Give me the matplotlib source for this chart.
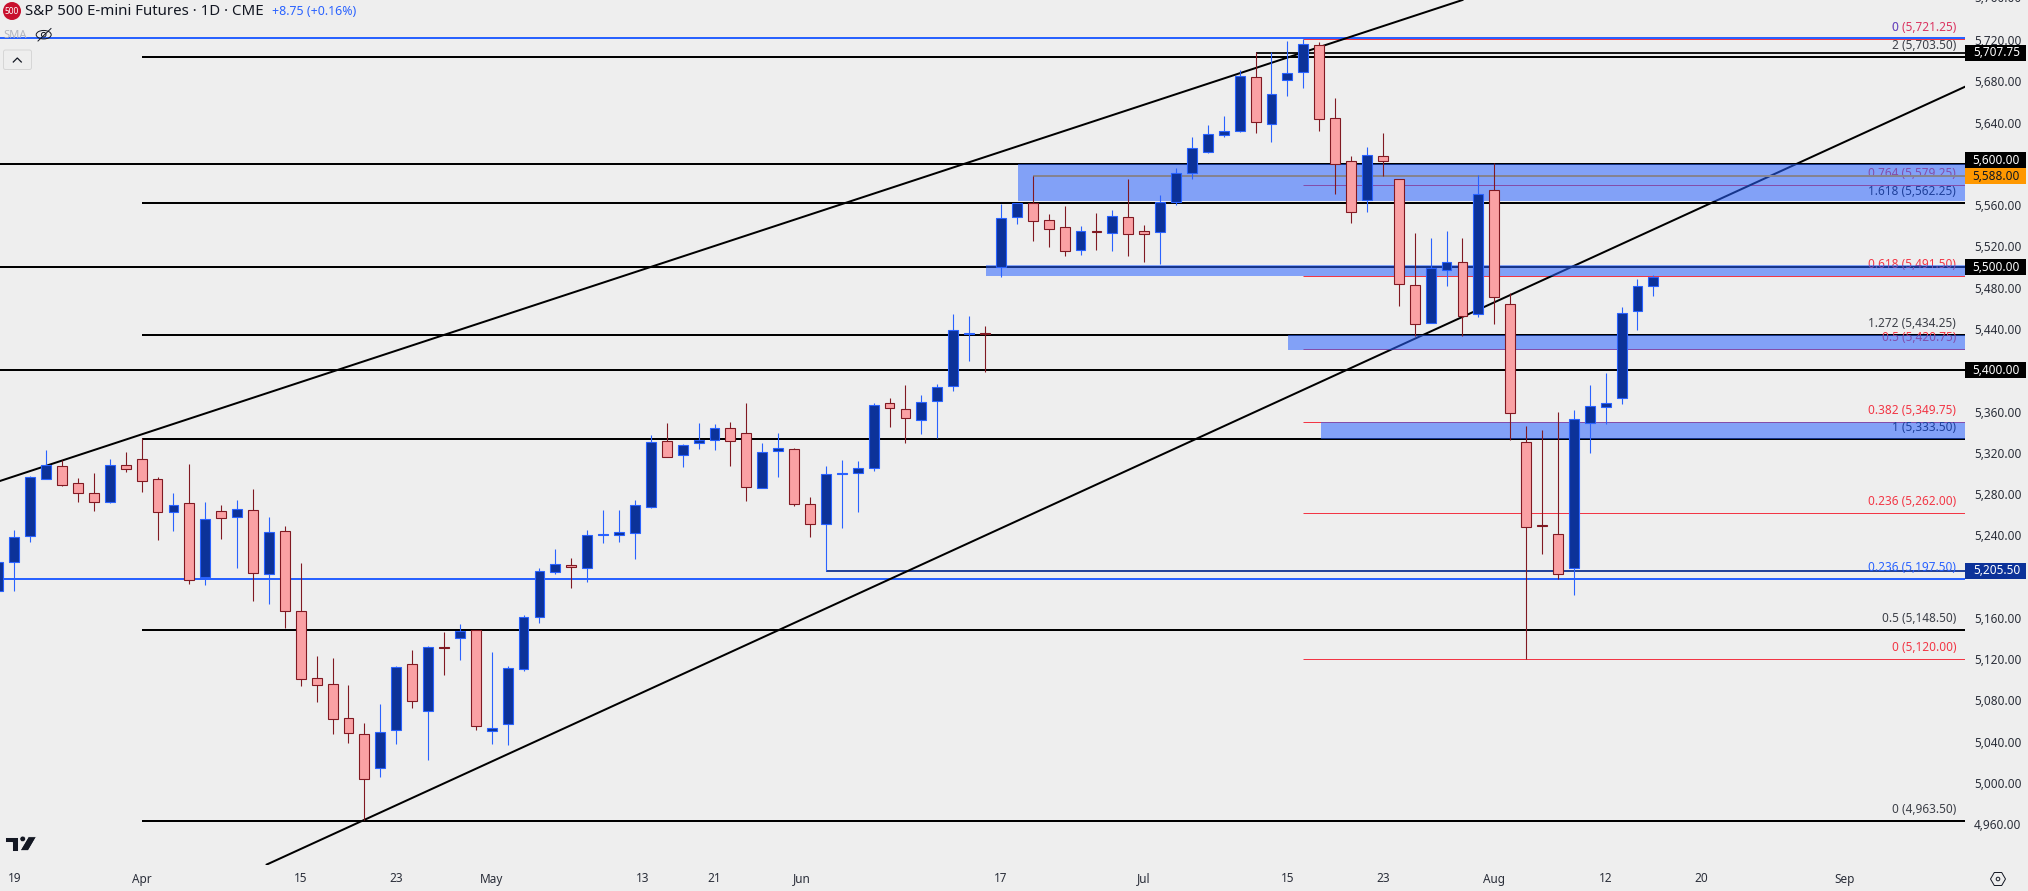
import matplotlib
matplotlib.use("Agg")
import matplotlib.pyplot as plt
from matplotlib.patches import Rectangle, Circle, Polygon, Ellipse, FancyBboxPatch
from matplotlib.transforms import blended_transform_factory
from matplotlib.ticker import FuncFormatter

plt.rcParams['font.family'] = ['Noto Sans', 'DejaVu Sans']

highs = [5215,5245.2,5297.5,5322.7,5313,5295.6,5300.4,5314,5320.8,5334,
5296.2,5281.1,5309.2,5272.3,5269.4,5274.3,5284.9,5257.8,5249.1,5213.2,
5123.1,5121.2,5095,5058.2,5076.6,5113.4,5128.9,5132.8,5146.4,5154.1,
5148.6,5127,5113.4,5162.8,5208.3,5226.7,5218,5245.2,5264.5,5264.5,
5274.2,5337.2,5348.8,5328.5,5348.8,5347.9,5349.8,5368.2,5329.5,5339.2,
5324.6,5277.1,5307.2,5313,5312,5368.2,5373.1,5385.7,5376,5386.6,
5454.5,5452.5,5442.9,5561.1,5562.4,5588.2,5551.4,5559.2,5539.8,5552.4,
5555.3,5585.3,5540.8,5569.8,5596,5626,5637.7,5646.4,5690.9,5708.7,
5708.4,5719,5721,5718,5663.8,5607.6,5616.3,5629.9,5585,5533,
5528.2,5534.9,5528.2,5589.2,5600.8,5474.5,5345.9,5342,5359.5,5361.4,
5385.7,5397.3,5461.3,5488.4,5492.3]
lows = [5186,5186.1,5233.6,5294.3,5287.8,5272.3,5263.9,5271.7,5301.4,5282,
5235.5,5244.2,5192.9,5191.9,5236.5,5208.4,5176.4,5173.5,5150.2,5094,
5078.5,5047.5,5038.8,4964.2,5005.9,5037.8,5072.7,5022.3,5104.7,5119.2,
5051.4,5037.8,5036.9,5108.6,5155,5202.5,5189,5194.8,5232.6,5233.5,
5217.1,5266.5,5316.2,5306.2,5323.6,5322.7,5307.2,5273.3,5285.5,5296.5,
5268.4,5238.4,5205.4,5247.1,5262.6,5302.3,5345,5329.5,5338.2,5334,
5379.9,5408.9,5398.3,5490.4,5541.7,5525.3,5519.4,5510.7,5511.7,5516.5,
5515.6,5510.7,5504.9,5503,5560.1,5585.3,5610.5,5626,5631.2,5629.9,
5621.2,5665.8,5673.5,5631.8,5570.8,5542.7,5553.4,5588.2,5462.3,5433.2,
5445.5,5481.6,5433.2,5451.6,5444.8,5332.4,5120,5222.2,5197.3,5182.2,
5319.8,5347.9,5367.3,5439,5472]
opens = [5186,5214.5,5239.7,5294.3,5306.9,5290.4,5280.7,5272.7,5307.9,5313.7,
5294.3,5262.3,5271,5199.3,5263.3,5257.5,5264.3,5202.3,5243.9,5166.4,
5101.5,5095.7,5062.7,5047.2,5014.3,5051.1,5115,5069.5,5131.5,5140.2,
5148.3,5050.1,5056.9,5110.2,5160.9,5204.1,5211.6,5208.7,5240.6,5240,
5241.9,5267.8,5331.1,5318.2,5329.1,5332,5343.7,5338.8,5285.5,5321.4,
5323.3,5270,5250.7,5299.1,5300.1,5304.9,5367.9,5362.1,5351.4,5369.8,
5384.4,5435.4,5435.7,5499.7,5548.2,5561.7,5545.3,5538.5,5516.2,5534.6,
5532.7,5548.2,5534.6,5533.6,5563.4,5590.8,5611.8,5627.6,5631.5,5683.8,
5638.3,5680.9,5688.7,5714.9,5644.1,5602.4,5564.7,5607.3,5585,5482.3,
5445.5,5496.8,5504.6,5454.2,5574.3,5463.9,5330.1,5249.7,5241,5208,
5348.5,5364.1,5372.8,5457.1,5481.3]
closes = [5214.5,5238.7,5296.2,5307.9,5289.1,5280.7,5272,5307.9,5304,5293,
5262.3,5269.1,5196.4,5255.5,5256.5,5265.2,5203.2,5242.9,5166.4,5100.5,
5094.7,5061.7,5048.2,5003.6,5049.1,5112.1,5079.2,5131.5,5131.2,5147,
5055,5053.7,5111.2,5161.2,5205.1,5211.9,5209.6,5240,5241.3,5242.9,
5269.1,5330.1,5316.2,5327.2,5332,5343.7,5331.1,5286.5,5320.4,5324.3,
5270,5250.7,5299.1,5300.1,5304.9,5366,5363.1,5353.4,5368.9,5383.4,
5438.7,5435.7,5435.4,5547.2,5561.7,5544.3,5536.6,5515.2,5534.6,5533.6,
5549.2,5531.7,5531.7,5562.7,5590.8,5615,5628.6,5631.5,5684.8,5640.2,
5667.4,5687.7,5715.8,5643.1,5599.5,5553,5608.3,5602.4,5483.3,5444.5,
5498.8,5504.6,5452.3,5570.5,5470.7,5358.3,5247.7,5248.7,5202.2,5352.4,
5365,5367.9,5455.2,5481.3,5490]

xtick_pos = [1, 9, 19, 25, 31, 40.5, 45, 50.5, 63, 72, 81, 87, 94, 101, 107, 116]
xtick_labels = ['19', 'Apr', '15', '23', 'May', '13', '21', 'Jun', '17', 'Jul', '15', '23', 'Aug', '12', '20', 'Sep']
ytick_values = [5720, 5680, 5640, 5560, 5520, 5480, 5440, 5360, 5320, 5280, 5240, 5160, 5120, 5080, 5040, 5000, 4960]

full_black_levels = [5600, 5500, 5400]
fib_black_levels = [5703.5, 5562.25, 5434.25, 5333.5, 5148.5, 4963.5]
fib_black_start = 9
fib_red_levels = [5721.25, 5579.25, 5491.5, 5420.75, 5349.75, 5262, 5120]
fib_red_start = 82
top_blue_levels = [5721.5, 5197.5]
pivot_line = (5707.75, 79)
dark_blue_line = (5205.5, 52)
gray_line = (5588, 65)

upper_channel_x = [0.1, 92]
upper_channel_y = [5292.7, 5758.75]
lower_channel_x = [16.86, 123.58]
lower_channel_y = [4921, 5674.7]

zones = [(64.1, 5564, 5600), (62.06, 5491.6, 5501.7), (81.04, 5419.6, 5434), (83.08, 5333.5, 5349.4)]

fib_labels = [
    (5721.25, '0 (5,721.25)', '#DB3360'), (5703.5, '2 (5,703.50)', '#3C3F47'),
    (5579.25, '0.764 (5,579.25)', '#F23645'), (5562.25, '1.618 (5,562.25)', '#131722'),
    (5491.5, '0.618 (5,491.50)', '#F23645'), (5434.25, '1.272 (5,434.25)', '#3C3F47'),
    (5420.75, '0.5 (5,420.75)', '#F23645'), (5349.75, '0.382 (5,349.75)', '#F23645'),
    (5333.5, '1 (5,333.50)', '#131722'), (5262, '0.236 (5,262.00)', '#F23645'),
    (5197.5, '0.236 (5,197.50)', '#2962FF'), (5148.5, '0.5 (5,148.50)', '#3C3F47'),
    (5120, '0 (5,120.00)', '#F23645'), (4963.5, '0 (4,963.50)', '#3C3F47'),
]
flags = [
    (5707.75, 5707.75, '5,707.75', '#000000', '#FFFFFF', 'bold'),
    (5603.7, 5600, '5,600.00', '#000000', '#FFFFFF', 'bold'),
    (5588, 5588, '5,588.00', '#FF9800', '#131722', 'normal'),
    (5500, 5500, '5,500.00', '#000000', '#FFFFFF', 'bold'),
    (5400, 5400, '5,400.00', '#000000', '#FFFFFF', 'bold'),
    (5205.5, 5205.5, '5,205.50', '#0C3299', '#FFFFFF', 'bold'),
]

BG = '#EEEEEE'
W, H = 2028, 891
fig = plt.figure(figsize=(W / 100, H / 100), dpi=100, facecolor=BG)
ax = fig.add_axes([0, 1 - 864.5 / H, 1965 / W, 864.5 / H], facecolor=BG)
ax.set_xlim(0.1005, 123.58)
ax.set_ylim(4921.06, 5758.75)
for s in ax.spines.values():
    s.set_visible(False)

px = 0.72
xmax = 123.58
for lv in full_black_levels:
    ax.hlines(lv, 0.1005, xmax, color='#000000', lw=2 * px, zorder=1, snap=True)
for lv in fib_black_levels:
    ax.hlines(lv, fib_black_start, xmax, color='#000000', lw=2 * px, zorder=1, snap=True)
ax.hlines(pivot_line[0], pivot_line[1], xmax, color='#1A1A1A', lw=2 * px, zorder=1, snap=True)
ax.hlines(dark_blue_line[0], dark_blue_line[1], xmax, color='#24439B', lw=2 * px, zorder=1, snap=True)
for lv in top_blue_levels:
    ax.hlines(lv, 0.1005, xmax, color='#2962FF', lw=2 * px, zorder=1, snap=True)
for lv in fib_red_levels:
    ax.hlines(lv, fib_red_start, xmax, color='#F23645', lw=1 * px, zorder=1.1, snap=True)
ax.plot(upper_channel_x, upper_channel_y, color='#000000', lw=2 * px, zorder=1.2)
ax.plot(lower_channel_x, lower_channel_y, color='#000000', lw=2 * px, zorder=1.2)

for lv, txt, col in fib_labels:
    ax.annotate(txt, xy=(1, lv), xycoords=('axes fraction', 'data'), xytext=(-9 * px, 11.5 * px),
                textcoords='offset points', ha='right', va='center', fontsize=8.5, color=col, zorder=1.5)
ax.annotate('0', xy=(1, 5721.25), xycoords=('axes fraction', 'data'), xytext=(-67 * px, 11.5 * px),
            textcoords='offset points', ha='right', va='center', fontsize=8.5, color='#2962FF', alpha=0.7, zorder=1.6)

for start, lo, hi in zones:
    ax.add_patch(Rectangle((start, lo), xmax - start, hi - lo, facecolor='#2962FF', alpha=0.55, lw=0, zorder=2))
ax.hlines(gray_line[0], gray_line[1], xmax, color='#858390', lw=2 * px, zorder=2.5, snap=True)

for i, (o, h, l, c) in enumerate(zip(opens, highs, lows, closes)):
    up = c >= o
    wick = '#2962FF' if up else '#801922'
    fill = '#0C3299' if up else '#FAA1A4'
    ax.vlines(i, l, h, color=wick, lw=1 * px * 1.1, zorder=3, snap=True)
    ax.bar(i, abs(c - o), bottom=min(o, c), width=0.62, facecolor=fill, edgecolor=wick,
           linewidth=1 * px * 1.1, zorder=4)

ax.set_xticks(xtick_pos)
ax.set_xticklabels(xtick_labels, fontsize=8.5, color='#2A2E39')
ax.yaxis.tick_right()
ax.set_yticks(ytick_values)
ax.yaxis.set_major_formatter(FuncFormatter(lambda v, p: f'{v:,.2f}'))
ax.tick_params(axis='y', length=0, pad=9 * px, labelsize=8.5, labelcolor='#2A2E39')
ax.tick_params(axis='x', length=0, pad=8 * px)
ax.annotate('5,760.00', xy=(1, 5760), xycoords=('axes fraction', 'data'), xytext=(9 * px, 0), textcoords='offset points',
            ha='left', va='center', fontsize=8.5, color='#2A2E39', annotation_clip=False)

trans = blended_transform_factory(fig.transFigure, ax.transData)
for pos, val, txt, bg, fg, wt in flags:
    ax.add_patch(Rectangle((1965 / W, pos - 7.75), 61 / W, 15.5, transform=trans, facecolor=bg, lw=0,
                           clip_on=False, zorder=10))
    ax.text(2020 / W, pos, txt, transform=trans, ha='right', va='center', fontsize=8.5, color=fg,
            fontweight=wt, zorder=11, clip_on=False)

# chrome drawn in figure pixels
ov = fig.add_axes([0, 0, 1, 1], facecolor='none', zorder=5)
ov.set_xlim(0, W)
ov.set_ylim(H, 0)
ov.axis('off')
ov.add_patch(Circle((12, 11), 9, facecolor='#C8102E', lw=0))
ov.text(12, 11, '500', ha='center', va='center', fontsize=6, fontweight='bold', color='white')
ov.text(25, 11.5, 'S&P 500 E-mini Futures · 1D · CME', ha='left', va='center', fontsize=10.8, color='#131722')
ov.text(272, 11.5, '+8.75 (+0.16%)', ha='left', va='center', fontsize=8.9, color='#2962FF')
ov.text(3, 35, 'SMA', ha='left', va='center', fontsize=8, color='#B2B5BE')
ov.add_patch(Ellipse((43.7, 34.7), 15, 8.5, facecolor='none', edgecolor='#131722', lw=0.7))
ov.add_patch(Circle((43.7, 34.7), 2.3, facecolor='none', edgecolor='#131722', lw=0.7))
ov.plot([38, 51], [41, 28.5], color='#131722', lw=0.7)
ov.add_patch(FancyBboxPatch((3.5, 50), 28, 19.5, boxstyle='round,pad=0,rounding_size=2', facecolor='none',
                            edgecolor='#D6D6D6', lw=0.7))
ov.plot([13.3, 17.3, 21.3], [62, 58, 62], color='#131722', lw=0.9)
ov.add_patch(Polygon([(5, 836.7), (18.3, 836.7), (18.3, 850.7), (11.7, 850.7), (11.7, 841.7), (5, 841.7)],
                     facecolor='#131722', edgecolor='white', lw=0.6))
ov.add_patch(Circle((22.7, 838.9), 2.8, facecolor='#131722', edgecolor='white', lw=0.4))
ov.add_patch(Polygon([(28.3, 836.7), (36.5, 836.7), (28.3, 850.7), (20, 850.7)],
                     facecolor='#131722', edgecolor='white', lw=0.6))
hx, hy = 1998, 879
ov.add_patch(Polygon([(hx - 7.5, hy), (hx - 3.7, hy - 6.5), (hx + 3.7, hy - 6.5), (hx + 7.5, hy), (hx + 3.7, hy + 6.5),
                      (hx - 3.7, hy + 6.5)], facecolor='none', edgecolor='#131722', lw=0.7))
ov.add_patch(Circle((hx, hy), 1.8, facecolor='none', edgecolor='#131722', lw=0.7))

fig.savefig('out.png', dpi=100, facecolor=BG)
